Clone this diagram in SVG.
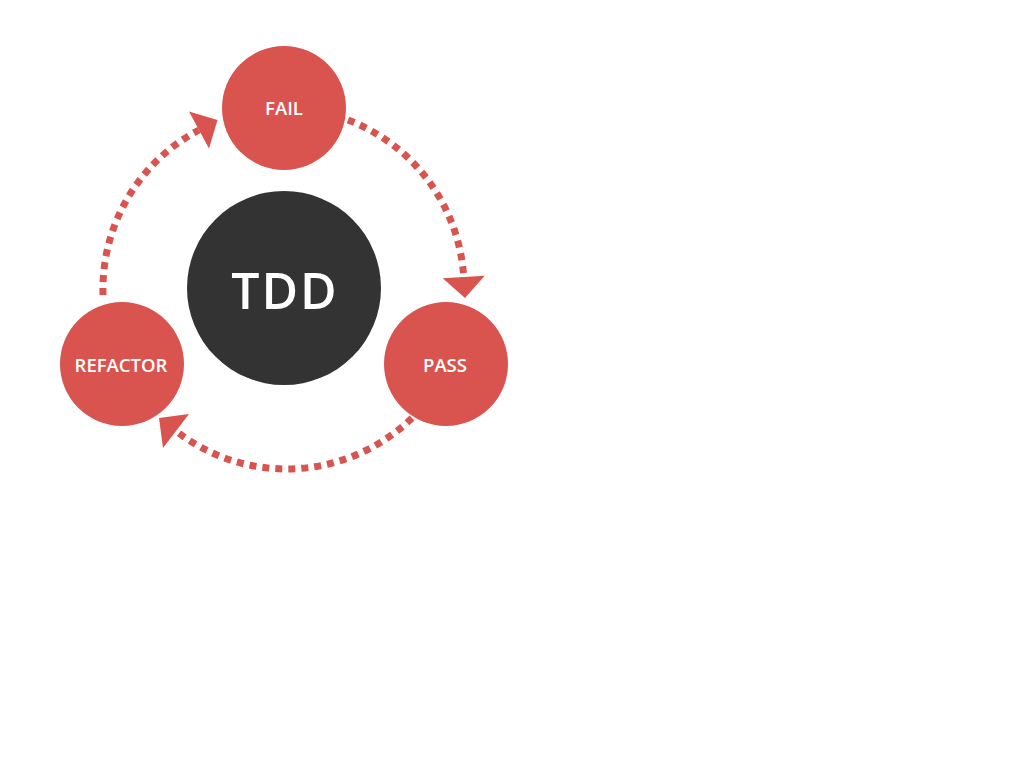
<svg xmlns="http://www.w3.org/2000/svg" width="1024" height="768" viewBox="0 0 1024 768">
<style>
.node{fill:#d9544f}
.core{fill:#333333}
.lbl{font-family:"Open Sans","Noto Sans",sans-serif;font-weight:600;fill:#ffffff;text-anchor:middle;dominant-baseline:central}
.small{font-size:18.5px}
.big{font-size:50px;letter-spacing:2px}
.arc{fill:none;stroke:#d9544f;stroke-width:7;stroke-dasharray:7 6}
.head{fill:#d9544f}
</style>
<rect width="1024" height="768" fill="#ffffff"/>
<g id="connectors">
<path class="arc" d="M348,120 A180,180 0 0 1 463.7,277"/>
<polygon class="head" points="442.7,278.3 484.7,275.7 465,298"/>
<path class="arc" d="M412,418 A180,180 0 0 1 176,431"/>
<polygon class="head" points="189,414 163,448 159,418"/>
<path class="arc" d="M103,295 A180,180 0 0 1 199,130"/>
<polygon class="head" points="189,111.5 209,148.5 217.5,120"/>
</g>
<g id="tdd">
<circle class="core" cx="284" cy="288" r="97"/>
<text class="lbl big" x="285" y="290">TDD</text>
</g>
<g id="fail">
<circle class="node" cx="284" cy="108" r="62"/>
<text class="lbl small" x="284" y="107">FAIL</text>
</g>
<g id="pass">
<circle class="node" cx="446" cy="364" r="62"/>
<text class="lbl small" x="445" y="364">PASS</text>
</g>
<g id="refactor">
<circle class="node" cx="122" cy="364" r="62"/>
<text class="lbl small" x="121" y="364">REFACTOR</text>
</g>
</svg>
